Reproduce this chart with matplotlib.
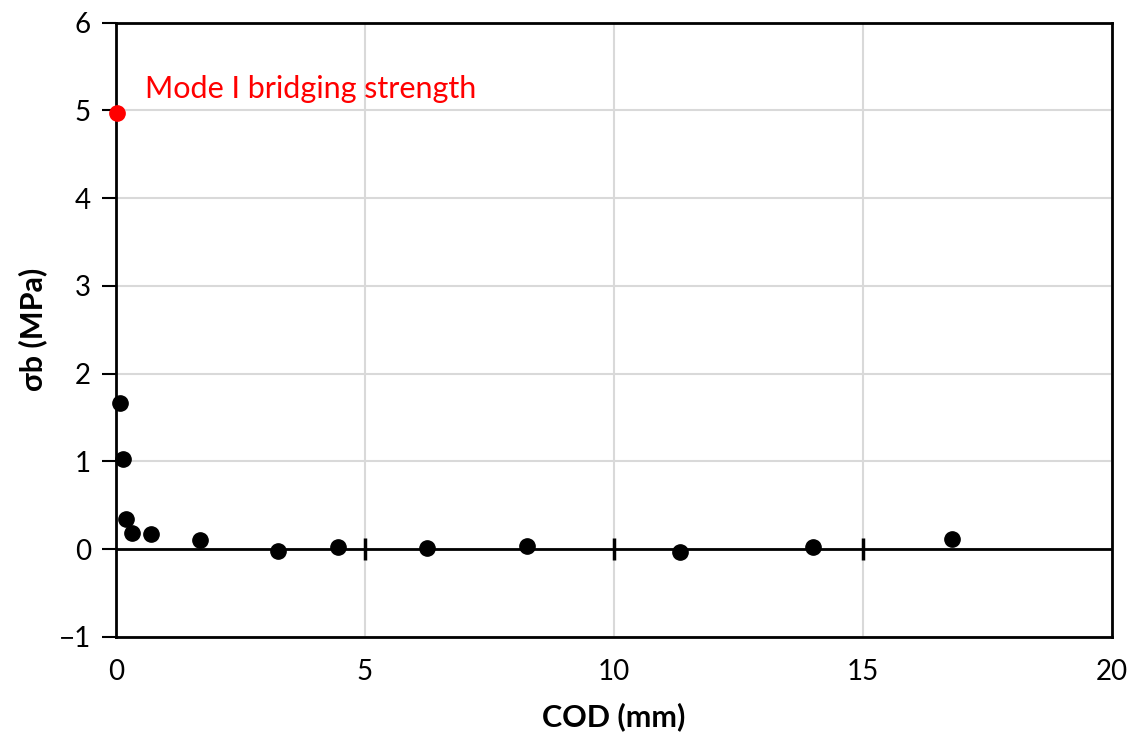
import matplotlib
matplotlib.use("Agg")
import matplotlib.pyplot as plt

plt.rcParams['font.family'] = ['Lato', 'DejaVu Sans']

# crack opening displacement (mm) and bridging stress (MPa)
cod = [0.09, 0.15, 0.20, 0.33, 0.70, 1.68, 3.25, 4.46, 6.25, 8.26, 11.32, 13.99, 16.79]
sigma_b = [1.67, 1.03, 0.35, 0.19, 0.17, 0.11, -0.02, 0.03, 0.01, 0.04, -0.03, 0.03, 0.12]

# mode I bridging strength point
cod_peak = [0.03]
sigma_peak = [4.97]

xticks = [0, 5, 10, 15, 20]
yticks = [-1, 0, 1, 2, 3, 4, 5, 6]

fig = plt.figure(figsize=(11.35, 7.47), dpi=100)
ax = fig.add_axes([0.1022, 0.1473, 0.8775, 0.8223])

ax.set_xlim(0, 20)
ax.set_ylim(-1, 6)
ax.set_xticks(xticks)
ax.set_yticks(yticks)
ax.grid(True, color='#d9d9d9', linewidth=1.5)
ax.set_axisbelow(True)

for s in ax.spines.values():
    s.set_color('black')
    s.set_linewidth(2)

ax.tick_params(axis='x', length=0, pad=16, labelsize=20)
ax.tick_params(axis='y', direction='out', length=10, width=1.5, pad=8, labelsize=20)

# horizontal axis line crossing at zero, with cross ticks
ax.axhline(0, color='black', linewidth=2, zorder=3)
ax.plot(xticks[1:-1], [0] * (len(xticks) - 2), '|', color='black', ms=16, mew=2.5, zorder=3)

ax.plot(cod, sigma_b, 'o', color='black', ms=11, zorder=5, clip_on=False)
ax.plot(cod_peak, sigma_peak, 'o', color='#ff0000', ms=11, zorder=5, clip_on=False)
ax.text(0.58, 5.25, 'Mode I bridging strength', color='#ff0000', fontsize=22,
        va='center', ha='left')

ax.set_xlabel('COD (mm)', fontsize=22, fontweight='bold', labelpad=12)
ax.set_ylabel('σb (MPa)', fontsize=22, fontweight='bold', labelpad=8)

fig.savefig('out.png', dpi=100)
